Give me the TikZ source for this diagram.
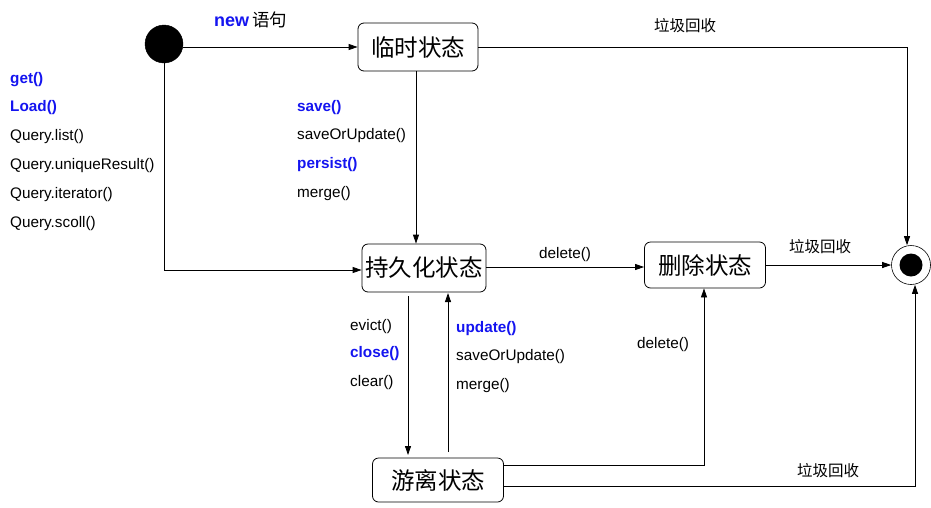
\documentclass[tikz,border=0pt]{standalone}
\usepackage{fontspec}
\setmainfont{Liberation Sans}
\newfontfamily\cjk{Noto Sans CJK SC}
\usetikzlibrary{arrows.meta}
\definecolor{kwblue}{RGB}{20,20,240}
\begin{document}
\begin{tikzpicture}[x=1pt,y=-1pt,
  state/.style={draw,rounded corners=6pt,line width=0.8pt,font=\cjk\fontsize{23.5}{25}\selectfont,inner sep=0pt},
  lbl/.style={font=\fontsize{15.3}{17}\selectfont,anchor=west,inner sep=0pt},
  kw/.style={lbl,text=kwblue,font=\bfseries\fontsize{15.3}{17}\selectfont},
  cl/.style={font=\cjk\fontsize{15.5}{17}\selectfont,inner sep=0pt},
  arr/.style={-{Triangle[length=9pt,width=6pt]},line width=0.8pt}]
\useasboundingbox (0,0) rectangle (931,507);
% nodes
\node[circle,fill=black,draw,minimum size=38pt,inner sep=0pt] (start) at (164,44) {};
\node[state,minimum width=120pt,minimum height=48pt] (tmp) at (418,47) {临时状态};
\node[state,minimum width=124pt,minimum height=48pt] (per) at (424,268) {持久化状态};
\node[state,minimum width=121pt,minimum height=46pt] (del) at (705,265) {删除状态};
\node[state,minimum width=131pt,minimum height=44pt] (det) at (438,480) {游离状态};
\node[circle,draw,line width=0.6pt,minimum size=39pt,inner sep=0pt] (fin) at (911,265) {};
\node[circle,fill=black,minimum size=23pt,inner sep=0pt] at (fin) {};
% coordinates
\coordinate (c1) at (907,47);
\coordinate (c2) at (164,270);
\coordinate (c3) at (704,465);
\coordinate (c4) at (915,486);
% connectors
\draw[arr] (start.east |- 0,47) -- (tmp.west);
\draw[arr] (tmp.east) -- (c1) -- (c1 |- fin.north);
\draw[arr] (tmp.south -| 416,0) -- (per.north -| 416,0);
\draw[arr] (start.south) -- (c2) -- (c2 -| per.west);
\draw[arr] (per.east |- 0,267) -- (del.west |- 0,267);
\draw[arr] (del.east) -- (fin.west);
\draw[arr] (408,296) -- (408,455);
\draw[arr] (448,452) -- (448,293);
\draw[arr] (det.east |- c3) -- (c3) -- (c3 |- del.south);
\draw[arr] (det.east |- c4) -- (c4) -- (c4 |- fin.south);
% labels
\node[anchor=west,inner sep=0pt] (newl) at (214,20) {\textcolor{kwblue}{\bfseries\fontsize{18}{20}\selectfont new}\hspace{3pt}{\cjk\fontsize{17.5}{19}\selectfont 语句}};
\node[cl] (g1) at (685,26) {垃圾回收};
\node[cl] (g2) at (820,247) {垃圾回收};
\node[cl] (g3) at (828,471) {垃圾回收};
\node[kw] (l1) at (10,80) {get()};
\node[kw] (l2) at (10,108) {Load()};
\node[lbl] (l3) at (10,137) {Query.list()};
\node[lbl] (l4) at (10,166) {Query.uniqueResult()};
\node[lbl] (l5) at (10,195) {Query.iterator()};
\node[lbl] (l6) at (10,224) {Query.scoll()};
\node[kw] (m1) at (297,108) {save()};
\node[lbl] (m2) at (297,136) {saveOrUpdate()};
\node[kw] (m3) at (297,165) {persist()};
\node[lbl] (m4) at (297,194) {merge()};
\node[lbl] (d1) at (539,255) {delete()};
\node[lbl] (d2) at (637,345) {delete()};
\node[lbl] (e1) at (350,327) {evict()};
\node[kw] (e2) at (350,354) {close()};
\node[lbl] (e3) at (350,383) {clear()};
\node[kw] (u1) at (456,329) {update()};
\node[lbl] (u2) at (456,357) {saveOrUpdate()};
\node[lbl] (u3) at (456,386) {merge()};
\end{tikzpicture}
\end{document}
